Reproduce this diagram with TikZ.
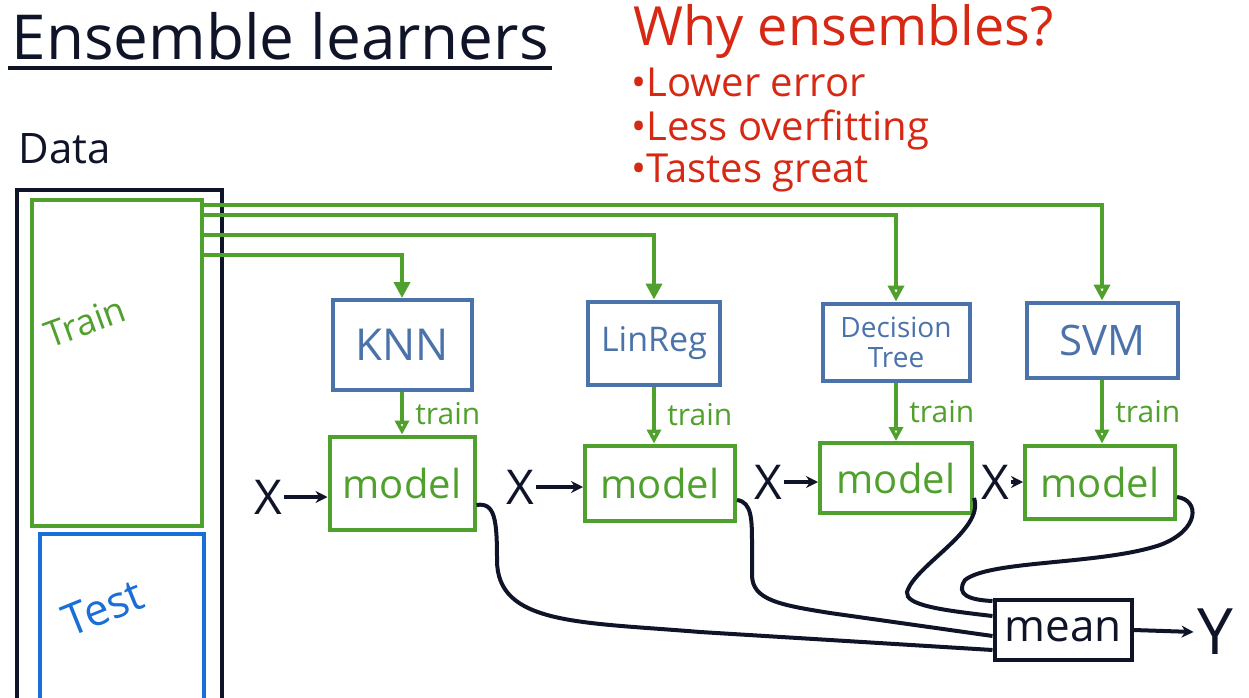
\documentclass[tikz,border=0pt]{standalone}
\usepackage{fontspec}
\setmainfont{Open Sans}
\usetikzlibrary{arrows.meta,positioning}

\definecolor{penblack}{RGB}{15,20,40}
\definecolor{pengreen}{RGB}{80,160,45}
\definecolor{penblue}{RGB}{75,115,170}
\definecolor{penred}{RGB}{215,40,20}
\definecolor{testblue}{RGB}{25,110,215}

\tikzset{
  algobox/.style={draw=penblue, text=penblue, line width=4pt, inner sep=0pt, align=center},
  modelbox/.style={draw=pengreen, text=pengreen, line width=4pt, inner sep=0pt,
    font=\fontsize{40}{44}\selectfont},
  feed/.style={pengreen, line width=4pt},
  ink/.style={penblack, line width=4pt},
}

\begin{document}
\begin{tikzpicture}[x=1pt, y=-1pt]
\useasboundingbox (0,0) rectangle (1249,698);

%% titulo + razones %%%%%%%%%%%%%%%%%%%%%%%%%%%%%%%%%
\node[anchor=base west, text=penblack, font=\fontsize{62}{64}\selectfont] (title) at (8,60) {Ensemble learners};
\draw[ink] ([yshift=-4pt]title.south west) -- ([yshift=-4pt]title.south east);
\node[anchor=base west, text=penred, font=\fontsize{54}{56}\selectfont] (why) at (630,46) {Why ensembles?};
\foreach \reason/\by in {Lower error/97, Less overfitting/140, Tastes great/182}{
\node[anchor=base west, text=penred, font=\fontsize{40}{43}\selectfont] (r\by) at (628,\by) {•\reason};
}

%% los datos %%%%%%%%%%%%%%%%%%%%%%%%%%%%%%%%%%%%%%%%%
\node[anchor=base west, text=penblack, font=\fontsize{42}{44}\selectfont] (datalabel) at (15,163) {Data};
\node[draw=penblack, line width=4pt, minimum width=205pt, minimum height=560pt, anchor=north west] (data) at (15,188) {};
\node[draw=pengreen, line width=4pt, minimum width=170pt, minimum height=326pt, anchor=north west] (train) at (30,198) {};
\node[draw=testblue, line width=4pt, minimum width=164pt, minimum height=200pt, anchor=north west] (test) at (38,532) {};
\node[text=pengreen, rotate=20, font=\fontsize{36}{40}\selectfont] (trainlabel) at (85,322) {Train};
\node[text=testblue, rotate=22, font=\fontsize{44}{48}\selectfont] (testlabel) at (103,608) {Test};

%% algoritmos %%%%%%%%%%%%%%%%%%%%%%%%%%%%%%%%%%%%%%%%
\node[algobox, minimum width=139pt, minimum height=90pt, font=\fontsize{44}{46}\selectfont] (knn) at (402,345) {KNN};
\node[algobox, minimum width=132pt, minimum height=83pt, font=\fontsize{34}{36}\selectfont] (linreg) at (654,343) {LinReg};
\node[algobox, minimum width=147pt, minimum height=77pt, font=\fontsize{28}{30}\selectfont] (dtree) at (896,342) {Decision\\Tree};
\node[algobox, minimum width=151pt, minimum height=75pt, font=\fontsize{42}{44}\selectfont] (svm) at (1102,340) {SVM};

%% modelos %%%%%%%%%%%%%%%%%%%%%%%%%%%%%%%%%%%%%%%%%%%
\node[modelbox, minimum width=145pt, minimum height=93pt] (m1) at (402,483) {model};
\node[modelbox, minimum width=150pt, minimum height=75pt] (m2) at (660,483) {model};
\node[modelbox, minimum width=152pt, minimum height=70pt] (m3) at (896,478) {model};
\node[modelbox, minimum width=150pt, minimum height=73pt] (m4) at (1100,482) {model};

%% train -> algoritmos %%%%%%%%%%%%%%%%%%%%%%%%%%%%%%%
\foreach \algo/\dy/\tipfill in {svm/7/white, dtree/17/white, linreg/37/pengreen, knn/57/pengreen}{
\draw[feed, -{Triangle[length=16pt, width=16pt, fill=\tipfill]}] ([yshift=-\dy pt]train.north east) -| (\algo.north);
}

%% algoritmo -> modelo %%%%%%%%%%%%%%%%%%%%%%%%%%%%%%%
\foreach \algo/\mod in {knn/m1, linreg/m2, dtree/m3, svm/m4}{
\draw[feed, -{Triangle[length=14pt, width=14pt, fill=white]}] (\algo.south) -- (\algo.south |- \mod.north)
  node[midway, right=8pt, text=pengreen, font=\fontsize{30}{32}\selectfont] {train};
}

%% entradas X %%%%%%%%%%%%%%%%%%%%%%%%%%%%%%%%%%%%%%%%
\foreach \mod/\xx/\yy in {m1/268/497, m2/520/487, m3/768/482, m4/995/482}{
\node[text=penblack, font=\fontsize{48}{50}\selectfont, inner sep=2pt] (x\mod) at (\xx,\yy) {X};
\draw[ink, -{Stealth[length=12pt, width=12pt]}] (x\mod.east) -- (x\mod.east -| \mod.west);
}

%% media y salida %%%%%%%%%%%%%%%%%%%%%%%%%%%%%%%%%%%%
\node[draw=penblack, line width=4pt, text=penblack, minimum width=137pt, minimum height=60pt, inner sep=0pt,
  font=\fontsize{44}{46}\selectfont] (mean) at (1063,630) {mean};
\node[text=penblack, font=\fontsize{64}{66}\selectfont] (out) at (1215,632) {Y};
\draw[ink, -{Stealth[length=12pt, width=12pt]}] (mean.east) -- (out.west);

%% modelos -> media %%%%%%%%%%%%%%%%%%%%%%%%%%%%%%%%%%
\draw[ink] ([yshift=-22pt]m1.east) .. controls (495,502) and (497,520) .. (497,560)
  .. controls (497,625) and (580,622) .. (700,632) -- ([yshift=-20pt]mean.west);
\draw[ink] ([yshift=-17pt]m2.east) .. controls (752,502) and (752,520) .. (752,545) -- (752,575)
  .. controls (752,600) and (780,605) .. (830,613) -- ([yshift=-6pt]mean.west);
\draw[ink] ([yshift=-20pt]m3.east) .. controls (985,530) and (915,565) .. (907,592)
  .. controls (905,605) and (940,610) .. ([yshift=14pt]mean.west);
\draw[ink] ([yshift=-15pt]m4.east) .. controls (1200,500) and (1200,530) .. (1160,545)
  .. controls (1100,565) and (990,560) .. (965,580) .. controls (955,595) and (970,600) .. ([yshift=29pt]mean.west);

\end{tikzpicture}
\end{document}
